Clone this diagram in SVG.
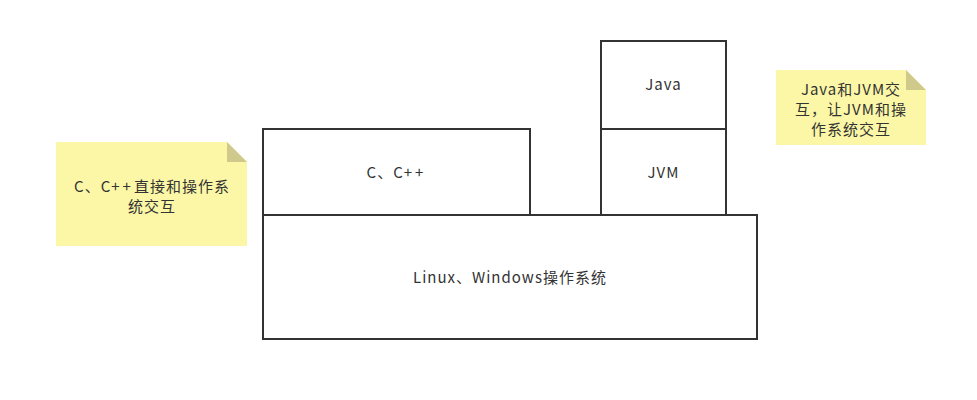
<svg xmlns="http://www.w3.org/2000/svg" width="977" height="400" viewBox="0 0 977 400">
<style>
.box{fill:#fff;stroke:#333;stroke-width:2}
.note{fill:#fbf7a6}
.fold{fill:#cfc98b}
text{font-family:"Noto Sans CJK SC","Liberation Sans",sans-serif;font-size:15px;letter-spacing:1px;fill:#333;text-anchor:middle}
.pp{letter-spacing:3px}
</style>
<rect width="977" height="400" fill="#fff"/>
<g id="os"><rect class="box" x="263" y="215" width="494" height="124"/><text x="510" y="283">Linux、Windows操作系统</text></g>
<g id="cpp"><rect class="box" x="263" y="129" width="267" height="86"/><text x="396.5" y="178">C、C<tspan class="pp">++</tspan></text></g>
<g id="jvm"><rect class="box" x="601" y="129" width="125" height="86"/><text x="663.5" y="178">JVM</text></g>
<g id="java"><rect class="box" x="601" y="41" width="125" height="88"/><text x="663.5" y="90">Java</text></g>
<g id="note1"><path class="note" d="M56 142H227L247 162V246H56Z"/><path class="fold" d="M227 142L247 162H227Z"/><text x="152" y="192">C、C<tspan class="pp">++</tspan>直接和操作系</text><text x="152" y="212">统交互</text></g>
<g id="note2"><path class="note" d="M776 70H906L926 90V145H776Z"/><path class="fold" d="M906 70L926 90H906Z"/><text x="851" y="95">Java和JVM交</text><text x="851" y="115">互，让JVM和操</text><text x="851" y="135">作系统交互</text></g>
<g id="connectors"/>
</svg>
